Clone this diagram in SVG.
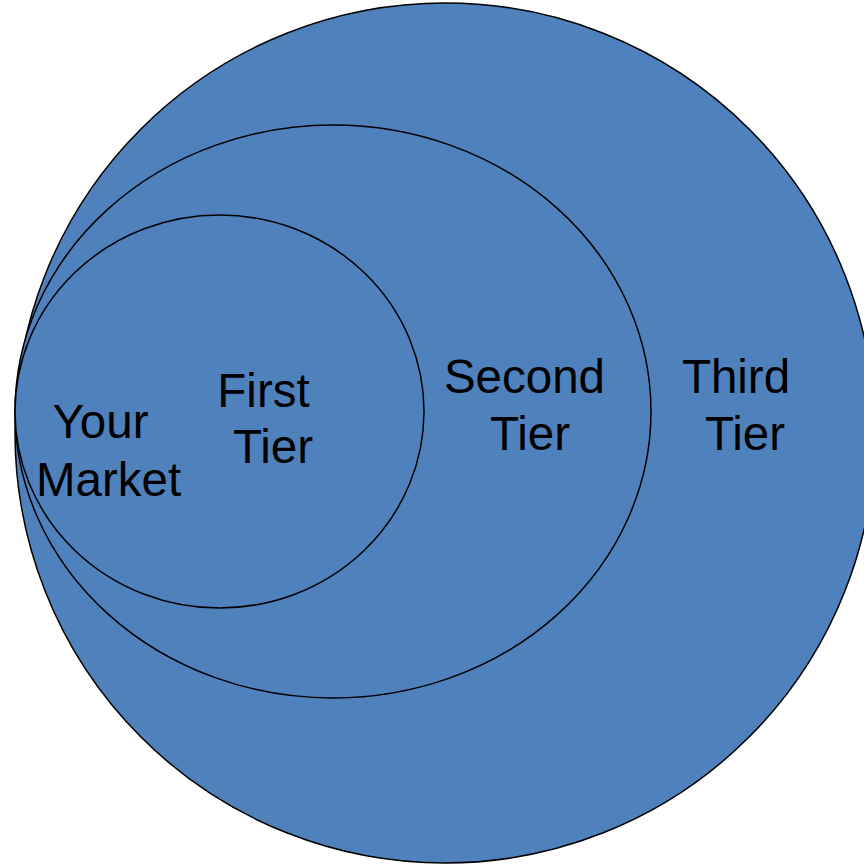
<svg xmlns="http://www.w3.org/2000/svg" width="864" height="865" viewBox="0 0 864 865">
<style>
.ring{fill:#4F81BD;stroke:#000;stroke-width:1.5}
.lbl{font-family:"Liberation Sans",Arial,sans-serif;font-size:47.5px;fill:#000;text-anchor:middle}
</style>
<rect width="864" height="865" fill="#fff"/>
<g id="third-tier">
<circle class="ring" cx="445" cy="433" r="430"/>
<text class="lbl" x="736" y="393">Third</text>
<text class="lbl" x="745" y="450">Tier</text>
</g>
<g id="second-tier">
<ellipse class="ring" cx="333" cy="411.5" rx="318" ry="286.5"/>
<text class="lbl" x="524.5" y="393">Second</text>
<text class="lbl" x="530" y="450">Tier</text>
</g>
<g id="first-tier">
<ellipse class="ring" cx="219.5" cy="411.5" rx="204.5" ry="196.5"/>
<text class="lbl" x="263.5" y="407">First</text>
<text class="lbl" x="273" y="463">Tier</text>
</g>
<g id="your-market">
<text class="lbl" x="100.5" y="438">Your</text>
<text class="lbl" x="108.5" y="496">Market</text>
</g>
<g id="connectors"/>
</svg>
